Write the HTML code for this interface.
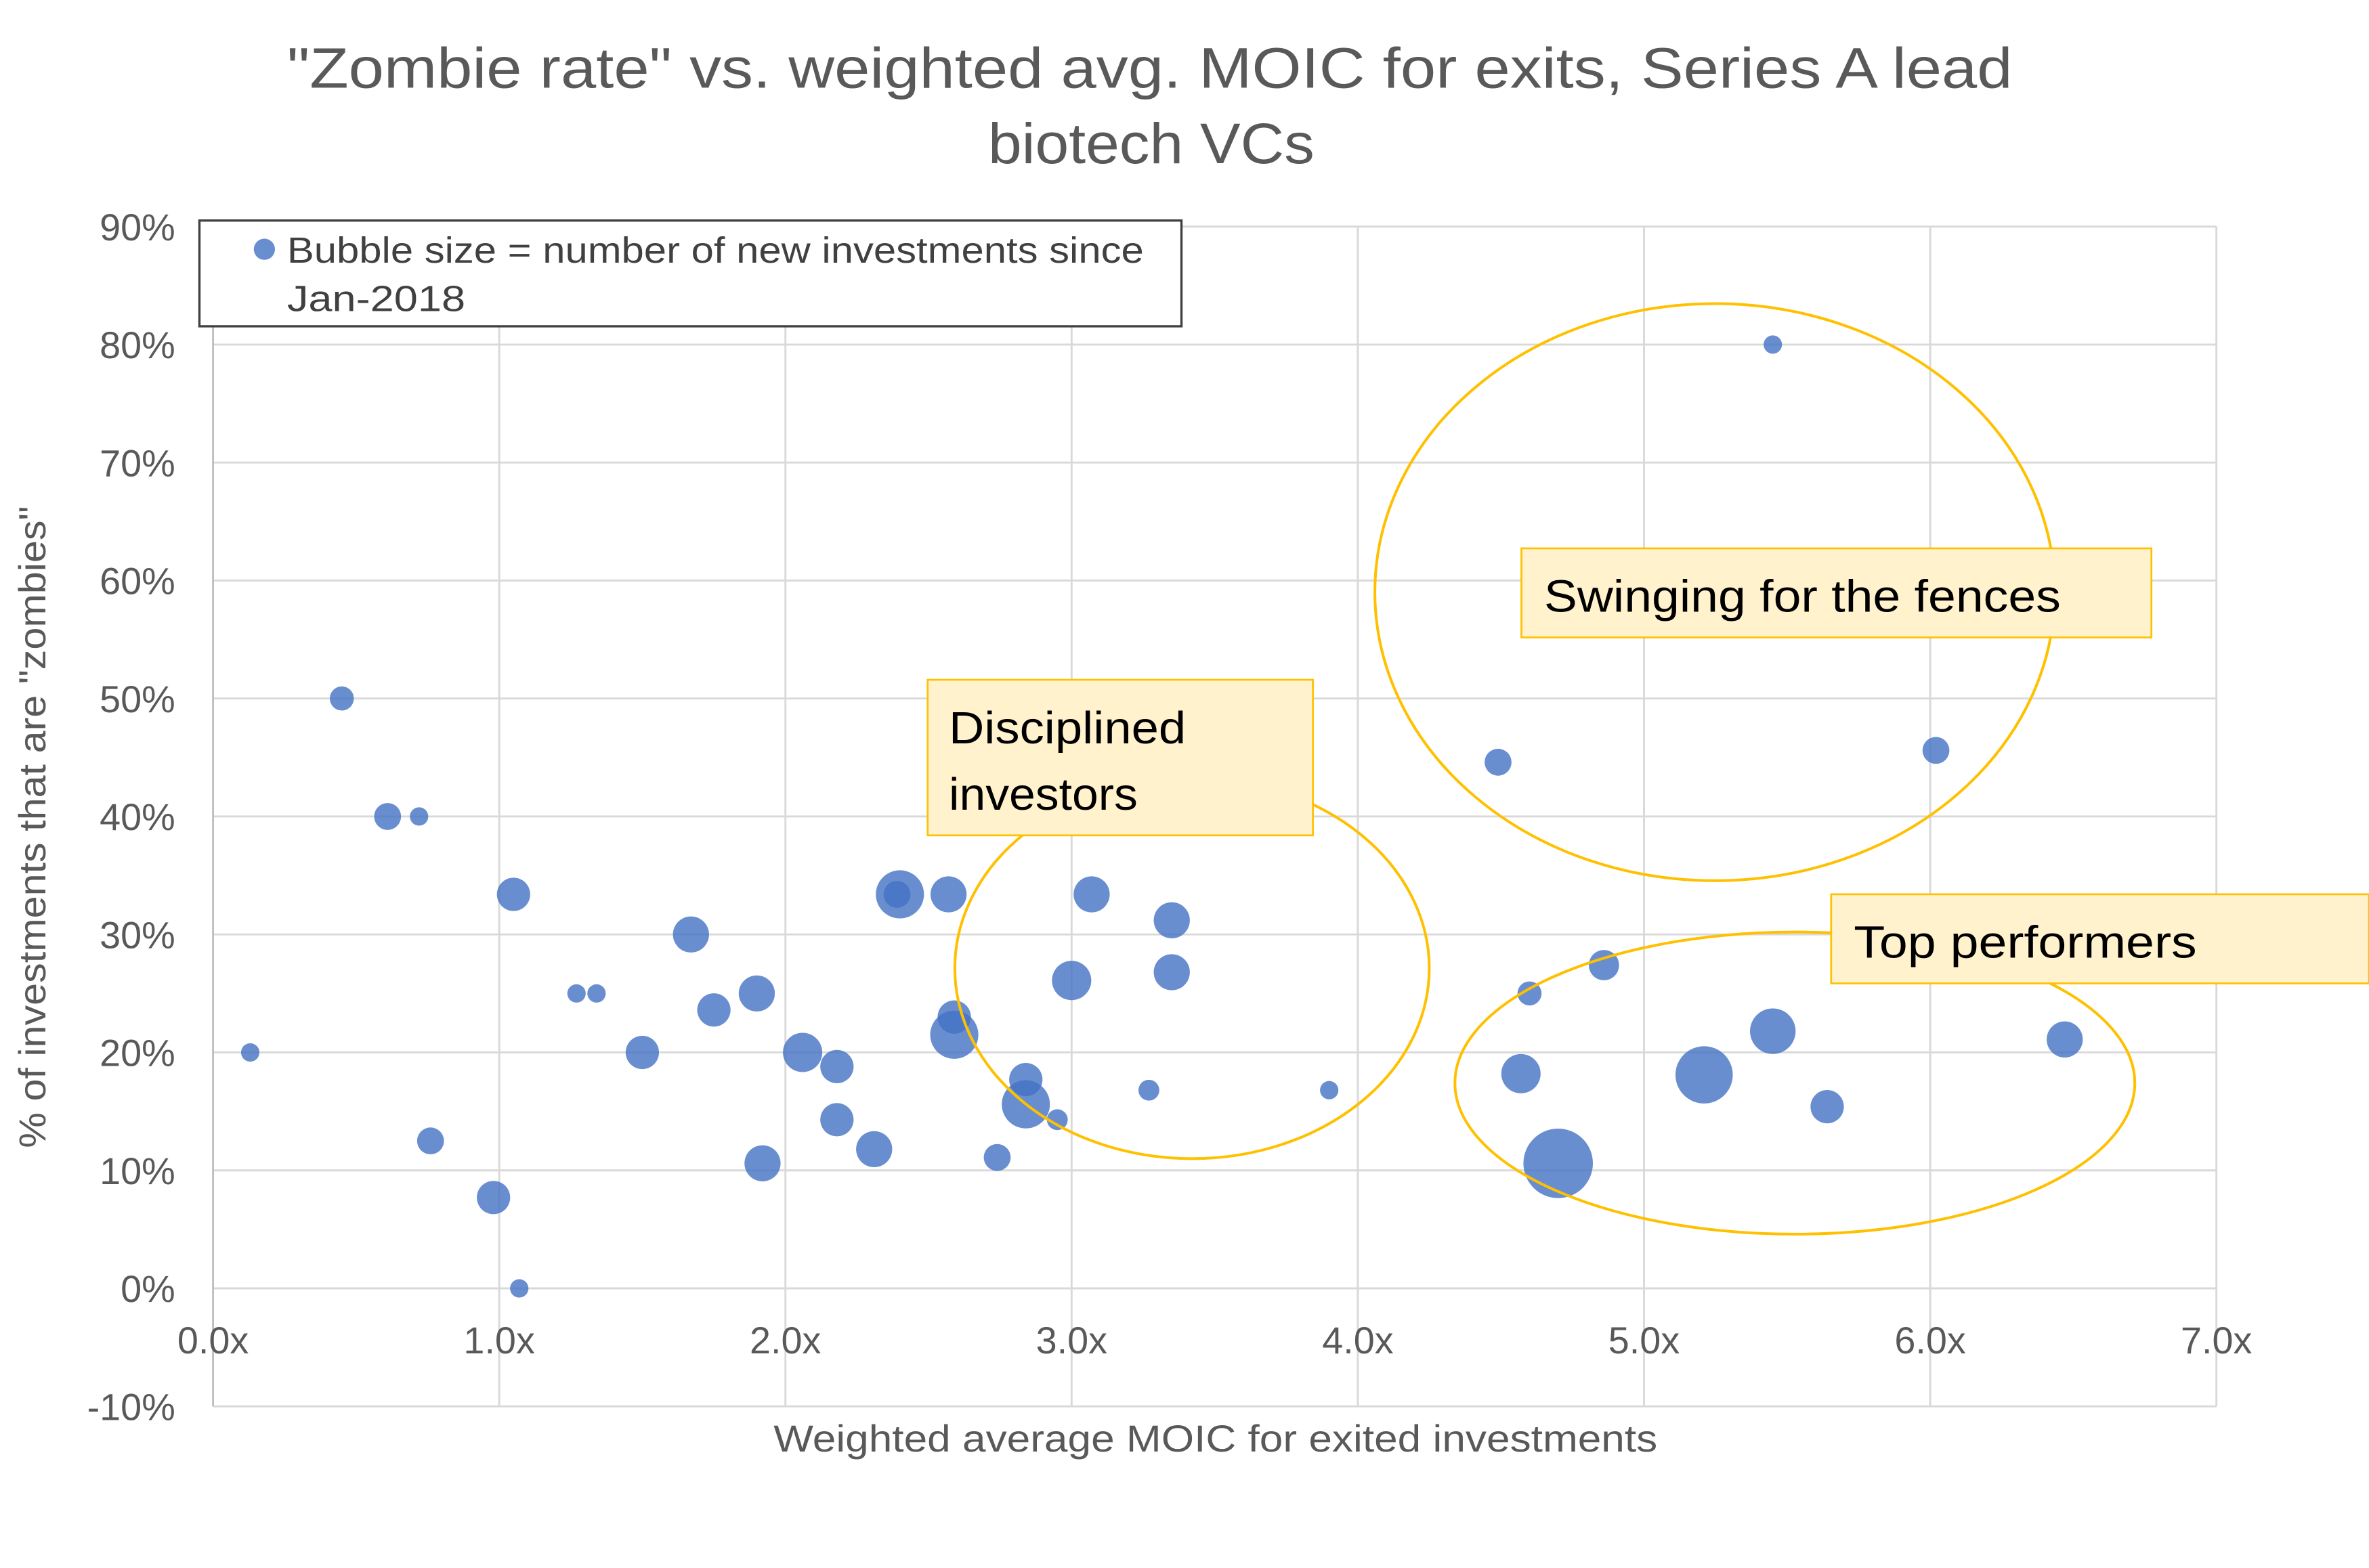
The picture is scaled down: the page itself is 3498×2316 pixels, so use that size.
<!DOCTYPE html>
<html><head><meta charset="utf-8"><style>
html,body{margin:0;padding:0;background:#fff;}
svg{display:block;}
text{font-family:"Liberation Sans",sans-serif;}
</style></head><body>
<svg id="chart" width="3498" height="2316" viewBox="0 0 1568 1038" preserveAspectRatio="none" xmlns="http://www.w3.org/2000/svg">
<rect width="1568" height="1038" fill="#fff"/>
<text x="190" y="58" textLength="1142" lengthAdjust="spacingAndGlyphs" font-size="38" fill="#595959">"Zombie rate" vs. weighted avg. MOIC for exits, Series A lead</text>
<text x="654" y="108" textLength="216" lengthAdjust="spacingAndGlyphs" font-size="38" fill="#595959">biotech VCs</text>
<g id="grid"></g>
<g id="yticks"></g>
<g id="xticks"></g>
<text x="512" y="961" textLength="585" lengthAdjust="spacingAndGlyphs" font-size="25" fill="#595959">Weighted average MOIC for exited investments</text>
<text transform="translate(30,760) rotate(-90)" textLength="425" lengthAdjust="spacingAndGlyphs" font-size="25" fill="#595959">% of investments that are "zombies"</text>
<g id="bubbles"></g>
<g>
<rect x="132" y="146" width="650" height="70" fill="#fff" stroke="#404040" stroke-width="1.5"/>
<circle cx="175" cy="165" r="7" fill="#4472C4" opacity="0.8"/>
<text x="190" y="174" textLength="567" lengthAdjust="spacingAndGlyphs" font-size="24" fill="#404040">Bubble size = number of new investments since</text>
<text x="190" y="206" textLength="118" lengthAdjust="spacingAndGlyphs" font-size="24" fill="#404040">Jan-2018</text>
</g>
<g fill="none" stroke="#FFC000" stroke-width="1.8">
<ellipse cx="1135" cy="392" rx="225" ry="191"/>
<ellipse cx="789" cy="641" rx="157" ry="126"/>
<ellipse cx="1188" cy="717" rx="225" ry="100"/>
</g>
<g>
<rect x="1007" y="363" width="417" height="59" fill="#FFF2CC" stroke="#FFC000" stroke-width="1.2"/>
<text x="1022" y="405" textLength="342" lengthAdjust="spacingAndGlyphs" font-size="30" fill="#000">Swinging for the fences</text>
</g>
<g>
<rect x="614" y="450" width="255" height="103" fill="#FFF2CC" stroke="#FFC000" stroke-width="1.2"/>
<text x="628" y="492" textLength="157" lengthAdjust="spacingAndGlyphs" font-size="30" fill="#000">Disciplined</text>
<text x="628" y="536" textLength="125" lengthAdjust="spacingAndGlyphs" font-size="30" fill="#000">investors</text>
</g>
<g>
<rect x="1212" y="592" width="356" height="59" fill="#FFF2CC" stroke="#FFC000" stroke-width="1.2"/>
<text x="1227" y="634" textLength="227" lengthAdjust="spacingAndGlyphs" font-size="30" fill="#000">Top performers</text>
</g>
</svg>
<script>
const moic=[0.13,0.45,0.61,0.72,0.76,0.98,1.05,1.07,1.27,1.34,1.50,1.67,1.75,1.90,1.92,2.06,2.18,2.18,2.31,2.40,2.39,2.57,2.59,2.59,2.74,2.84,2.84,2.95,3.00,3.07,3.27,3.35,3.35,3.90,4.49,4.57,4.60,4.70,4.86,5.21,5.45,5.45,5.64,6.02,6.47];
const zombiePct=[20,50,40,40,12.5,7.7,33.4,0,25,25,20,30,23.6,25,10.6,20,18.8,14.3,11.8,33.4,33.4,33.4,23,21.5,11.1,17.7,15.6,14.3,26.1,33.4,16.8,31.2,26.8,16.8,44.6,18.2,25,10.6,27.4,18.1,80,21.8,15.4,45.6,21.1];
const investments=[7,12,15,7,15,23,23,7,7,7,23,27,23,27,27,32,23,23,27,48,15,27,23,48,15,23,48,9,32,27,9,27,27,7,15,32,12,100,19,68,7,43,23,15,27];
const xTicks=[0,1,2,3,4,5,6,7];
const xTickLabels=["0.0x","1.0x","2.0x","3.0x","4.0x","5.0x","6.0x","7.0x"];
const yTicks=[-10,0,10,20,30,40,50,60,70,80,90];
const yTickLabels=["-10%","0%","10%","20%","30%","40%","50%","60%","70%","80%","90%"];
const NS="http://www.w3.org/2000/svg";
const X0=141,X1=1467,Y0=931,Y1=150;
const sx=v=>X0+(v-0)/(7-0)*(X1-X0);
const sy=v=>Y0-(v+10)/(100)*(Y0-Y1);
const sr=n=>2.3*Math.sqrt(n);
function mk(tag,attrs,parent){const e=document.createElementNS(NS,tag);for(const k in attrs)e.setAttribute(k,attrs[k]);parent.appendChild(e);return e;}
const grid=document.getElementById('grid'),yt=document.getElementById('yticks'),xt=document.getElementById('xticks'),bb=document.getElementById('bubbles');
yTicks.forEach((v,i)=>{
  const l=mk('line',{x1:X0,x2:X1,y1:sy(v),y2:sy(v),stroke:'#D9D9D9','stroke-width':1.3},grid);
  
  
  const t=mk('text',{x:116,y:sy(v)+9,'text-anchor':'end','font-size':25,fill:'#595959'},yt);
  t.textContent=yTickLabels[i];
  
  
});
xTicks.forEach((v,i)=>{
  const l=mk('line',{x1:sx(v),x2:sx(v),y1:Y1,y2:Y0,stroke:v===0?'#BFBFBF':'#D9D9D9','stroke-width':1.3},grid);
  
  
  const t=mk('text',{x:sx(v),y:sy(0)+43,'text-anchor':'middle','font-size':25,fill:'#595959'},xt);
  t.textContent=xTickLabels[i];
  
  
});
moic.forEach((m,i)=>{
  const c=mk('circle',{cx:sx(m),cy:sy(zombiePct[i]),r:sr(investments[i]),fill:'#4472C4',opacity:0.8},bb);
  
  
});
</script>
</body></html>
